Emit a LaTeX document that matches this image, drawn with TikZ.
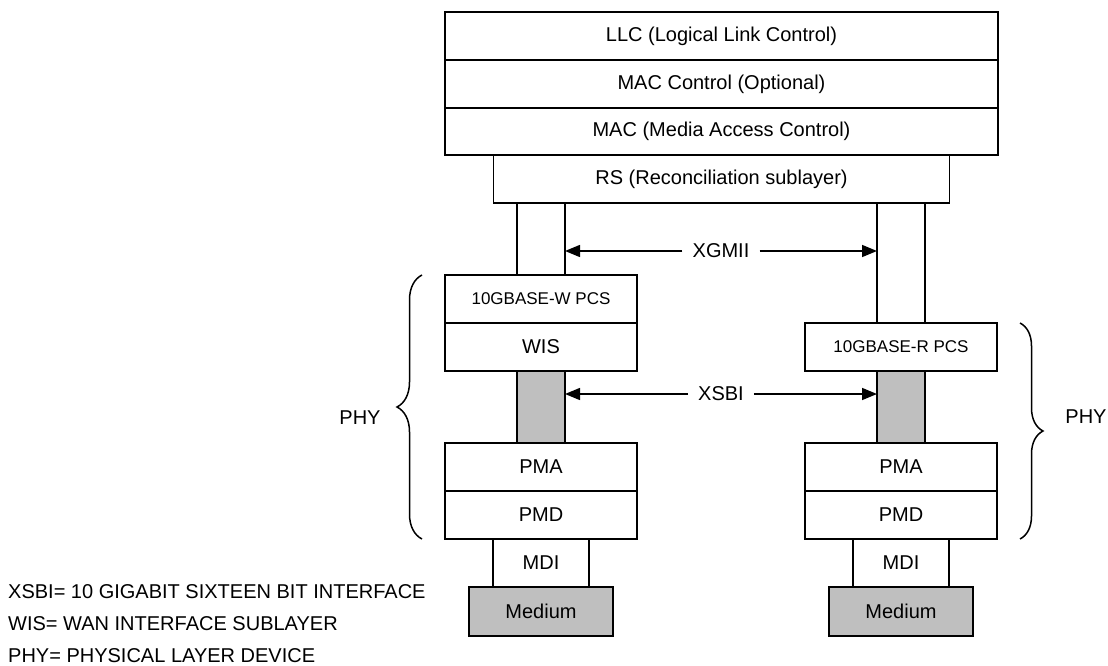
\documentclass[tikz,border=0pt]{standalone}
\usepackage{fontspec}
\setmainfont{Liberation Sans}
\usetikzlibrary{positioning,arrows.meta,decorations.pathreplacing}

\tikzset{
  layer/.style={draw, line width=1.5pt, inner sep=0pt, outer sep=0pt, minimum height=48pt},
  wide/.style={layer, minimum width=553pt},
  col/.style={layer, minimum width=192pt},
  stub/.style={layer, minimum width=48pt},
  shaded/.style={fill=black!25},
  link/.style={line width=1.5pt, -{Triangle[length=15pt,width=12pt]}},
  phybrace/.style={decorate, line width=1.5pt, decoration={brace, amplitude=#1}},
  note/.style={anchor=west, inner sep=0pt}
}

\begin{document}
\begin{tikzpicture}[x=1pt,y=-1pt,font=\fontsize{20}{24}\selectfont]
\useasboundingbox (0,0) rectangle (1108,666);
% upper layers
\node[wide] (llc) at (721.5,36) {LLC (Logical Link Control)};
\node[wide, below=0pt of llc] (macctl) {MAC Control (Optional)};
\node[wide, below=0pt of macctl, minimum height=47pt] (mac) {MAC (Media Access Control)};
\node[layer, minimum width=456pt, below=0pt of mac] (rs) {RS (Reconciliation sublayer)};

% 10GBASE-W side
\node[stub, anchor=north, minimum height=72pt] (xgmiiL) at (541,203) {};
\node[col, below=0pt of xgmiiL, font=\fontsize{17}{20}\selectfont] (wpcs) {10GBASE-W PCS};
\node[col, below=0pt of wpcs] (wis) {WIS};
\node[stub, shaded, minimum height=72pt, below=0pt of wis] (xsbiL) {};

% 10GBASE-R side
\node[stub, anchor=north, minimum height=120pt] (xgmiiR) at (901,203) {};
\node[col, below=0pt of xgmiiR, font=\fontsize{17}{20}\selectfont] (rpcs) {10GBASE-R PCS};
\node[stub, shaded, minimum height=72pt, below=0pt of rpcs] (xsbiR) {};

% PMA, PMD, MDI and medium on both sides
\foreach \s in {L,R}{
  \node[col, below=0pt of xsbi\s] (pma\s) {PMA};
  \node[col, below=0pt of pma\s] (pmd\s) {PMD};
  \node[layer, minimum width=96pt, below=0pt of pmd\s] (mdi\s) {MDI};
  \node[layer, shaded, minimum width=144pt, minimum height=49pt, below=0pt of mdi\s] (med\s) {Medium};
}

% interfaces
\node[inner xsep=10pt] (xgmii) at (721,251) {XGMII};
\draw[link] (xgmii.west) -- (xgmiiL.east |- xgmii.west);
\draw[link] (xgmii.east) -- (xgmiiR.west |- xgmii.east);
\node[inner xsep=10pt] (xsbi) at (721,394) {XSBI};
\draw[link] (xsbi.west) -- (xsbiL.east |- xsbi.west);
\draw[link] (xsbi.east) -- (xsbiR.west |- xsbi.east);

% PHY braces
\draw[phybrace=25pt] ([xshift=-23pt]pmdL.south west) -- ([xshift=-23pt]wpcs.north west);
\draw[phybrace=23pt] ([xshift=23pt]rpcs.north east) -- ([xshift=23pt]pmdR.south east);
\node (phyL) at (360,418) {PHY};
\node (phyR) at (1086,417) {PHY};

% legend
\node[note] (noteA) at (8,592) {XSBI= 10 GIGABIT SIXTEEN BIT INTERFACE};
\node[note] (noteB) at (8,624) {WIS= WAN INTERFACE SUBLAYER};
\node[note] (noteC) at (8,656) {PHY= PHYSICAL LAYER DEVICE};
\end{tikzpicture}
\end{document}
